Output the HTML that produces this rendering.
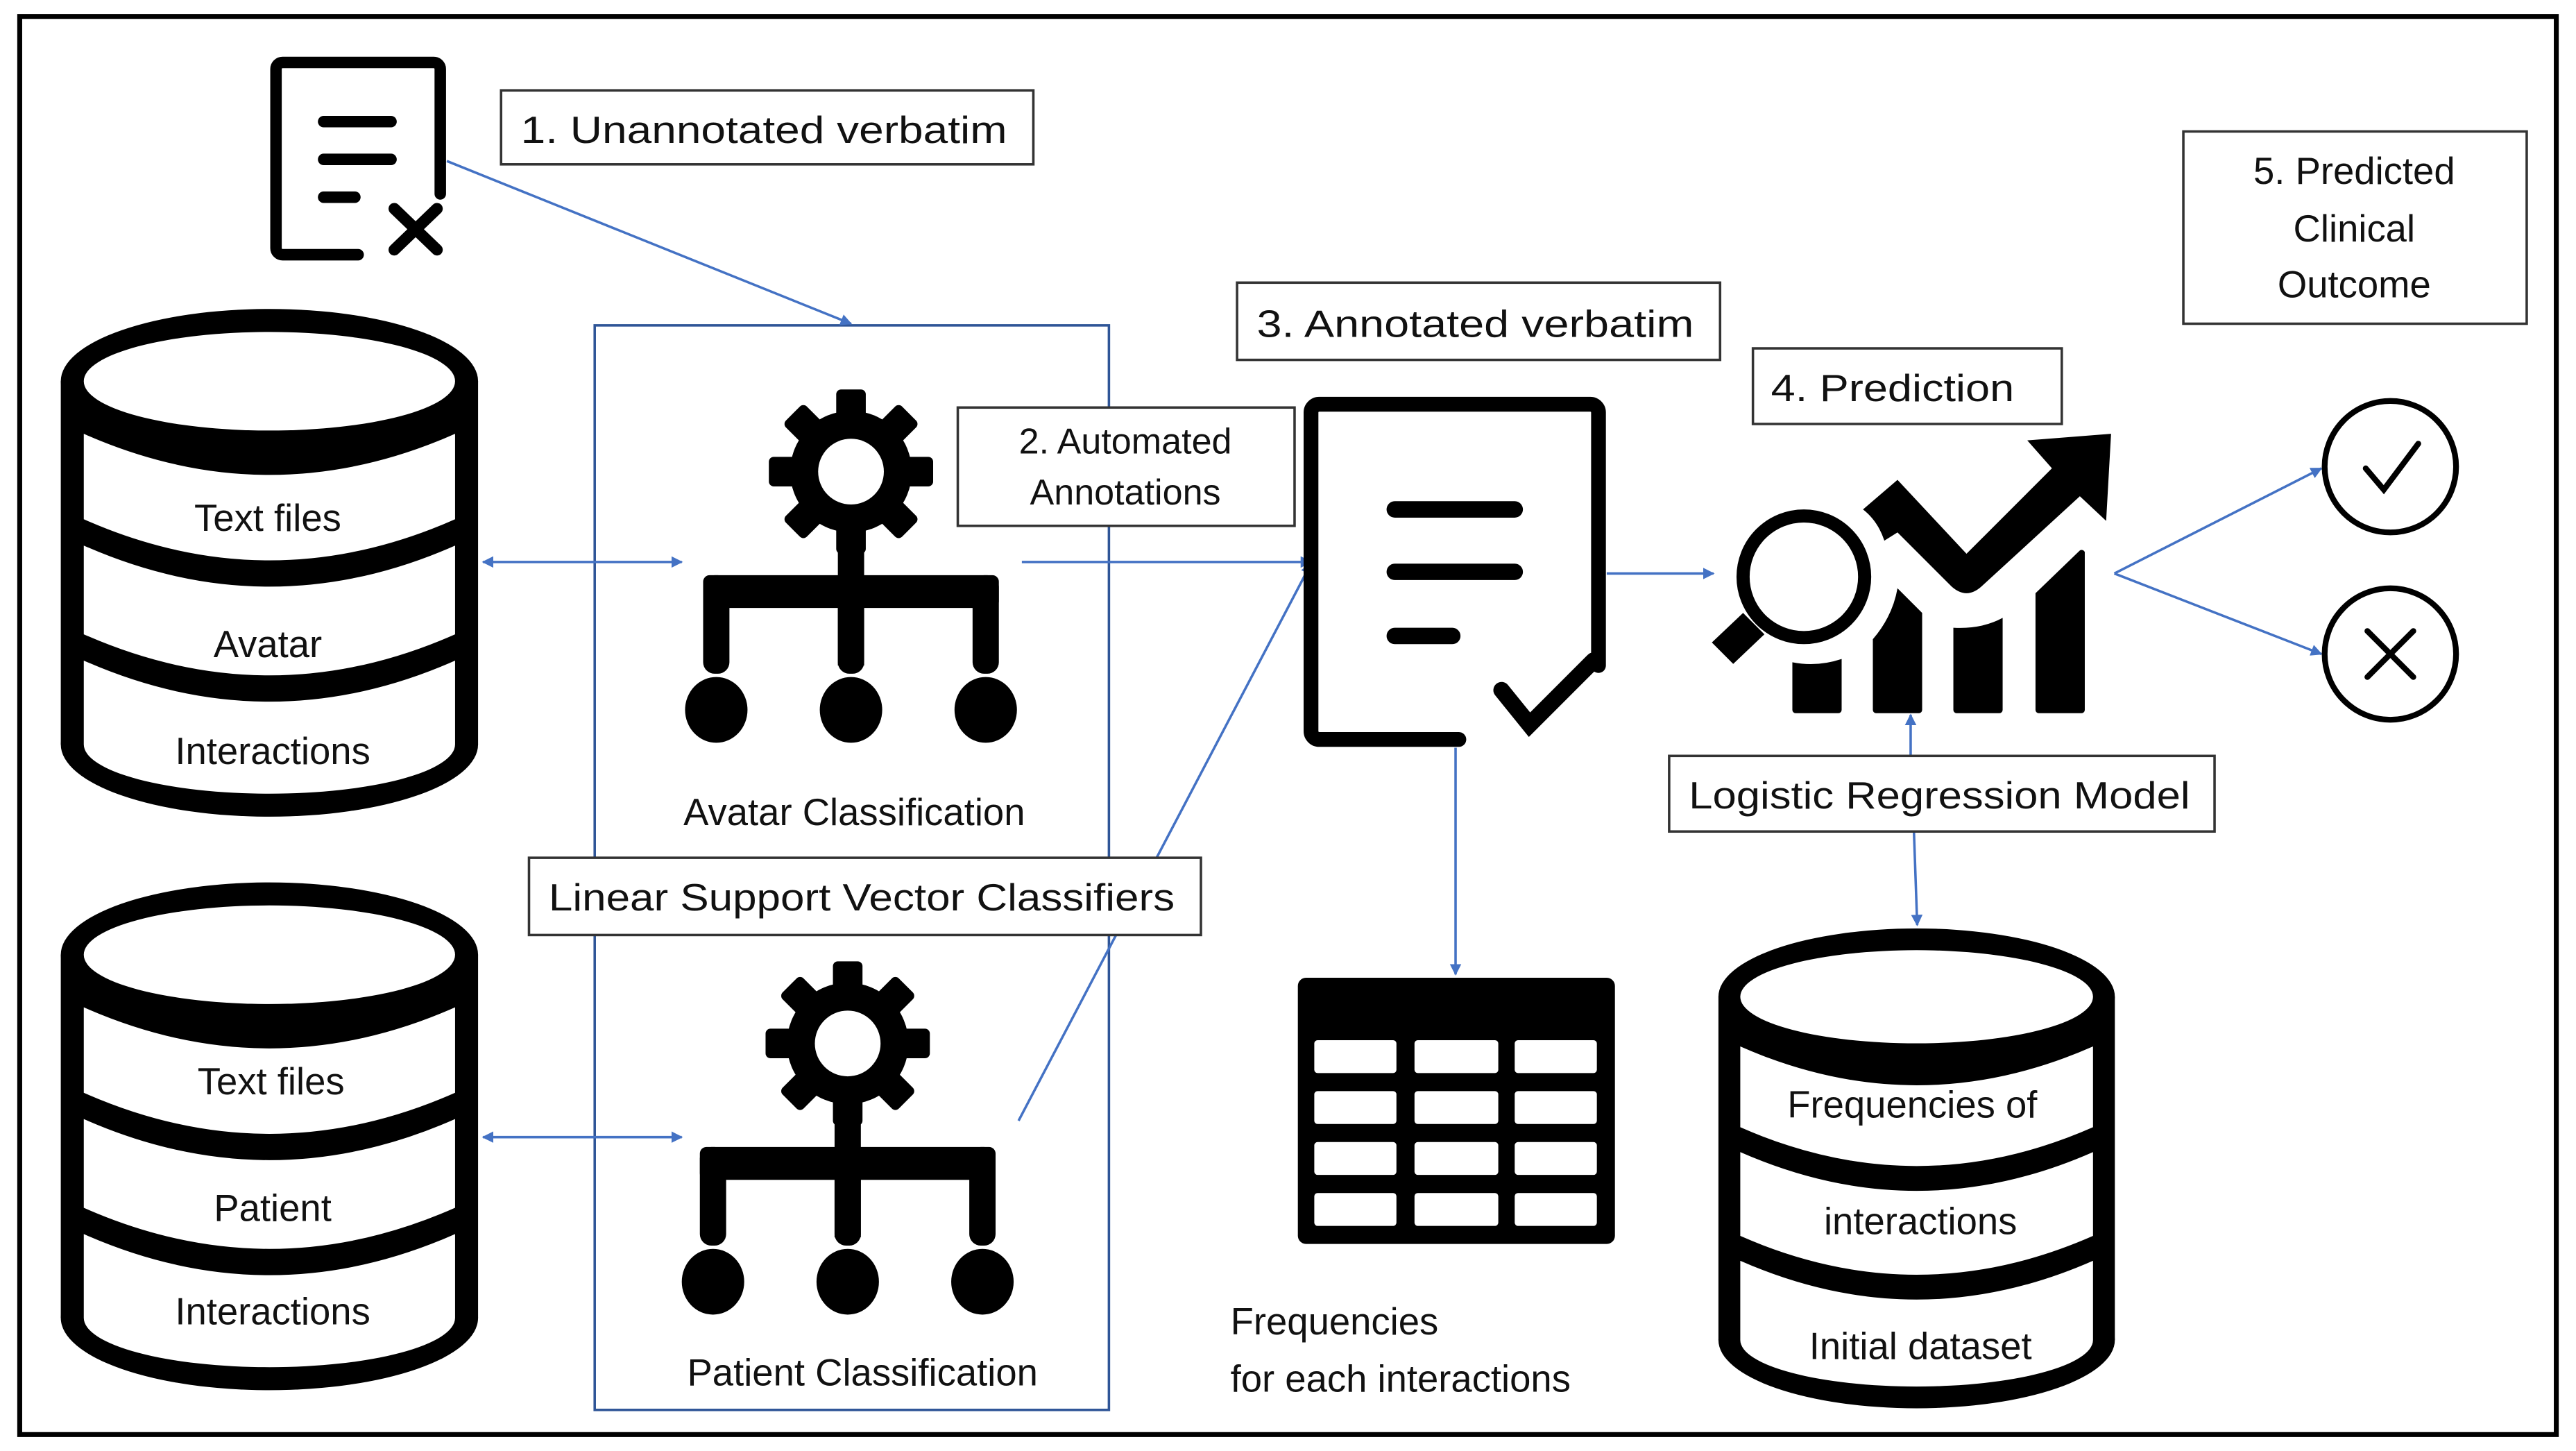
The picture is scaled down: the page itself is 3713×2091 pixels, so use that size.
<!DOCTYPE html>
<html><head><meta charset="utf-8"><style>
html,body{margin:0;padding:0;background:#fff;}
svg{display:block;}
text{font-family:"Liberation Sans",sans-serif;fill:#111;}
</style></head><body>
<svg width="3713" height="2091" viewBox="0 0 1568 883" preserveAspectRatio="none" xmlns="http://www.w3.org/2000/svg">
<defs>
<marker id="ah" viewBox="0 0 10 10" refX="9" refY="5" markerWidth="7" markerHeight="7" orient="auto-start-reverse" markerUnits="userSpaceOnUse"><path d="M0,0 L10,5 L0,10 z" fill="#4472C4"/></marker>
<g id="cyl">
<ellipse cx="127" cy="44" rx="127" ry="44" fill="#000"/>
<rect x="0" y="44" width="254" height="221" fill="#000"/>
<ellipse cx="127" cy="265" rx="127" ry="44" fill="#000"/>
<ellipse cx="127" cy="44" rx="113" ry="30" fill="#fff"/>
<path d="M14,76 Q127,126 240,76 L240,128 Q127,178 14,128 Z" fill="#fff"/>
<path d="M14,144 Q127,194 240,144 L240,198 Q127,248 14,198 Z" fill="#fff"/>
<path d="M14,214 Q127,264 240,214 L240,265 A113,30 0 0 1 14,265 Z" fill="#fff"/>
</g>
<g id="gear">
<g fill="#000">
<circle cx="0" cy="0" r="37"/>
<rect x="-9" y="-50" width="18" height="100" rx="3"/>
<rect x="-9" y="-50" width="18" height="100" rx="3" transform="rotate(45)"/>
<rect x="-9" y="-50" width="18" height="100" rx="3" transform="rotate(90)"/>
<rect x="-9" y="-50" width="18" height="100" rx="3" transform="rotate(135)"/>
</g>
<circle cx="0" cy="0" r="20" fill="#fff"/>
<rect x="-8" y="40" width="16" height="78" fill="#000"/>
<rect x="-90" y="63" width="180" height="20" rx="4" fill="#000"/>
<rect x="-90" y="63" width="16" height="60" rx="7" fill="#000"/>
<rect x="74" y="63" width="16" height="60" rx="7" fill="#000"/>
<rect x="-8" y="63" width="16" height="60" rx="7" fill="#000"/>
<ellipse cx="-82" cy="145" rx="19" ry="20" fill="#000"/>
<ellipse cx="0" cy="145" rx="19" ry="20" fill="#000"/>
<ellipse cx="82" cy="145" rx="19" ry="20" fill="#000"/>
</g>
</defs>
<rect x="12" y="10" width="1544" height="863" fill="#fff" stroke="#000" stroke-width="3"/>

<!-- unannotated doc -->
<path d="M218,155 H172 a4,4 0 0 1 -4,-4 V42 a4,4 0 0 1 4,-4 H264 a4,4 0 0 1 4,4 V118" fill="none" stroke="#000" stroke-width="7" stroke-linecap="round"/>
<g stroke="#000" stroke-width="7" stroke-linecap="round">
<line x1="197" y1="74" x2="238" y2="74"/><line x1="197" y1="97" x2="238" y2="97"/><line x1="197" y1="120" x2="216" y2="120"/>
<line x1="240" y1="127" x2="266" y2="152"/><line x1="266" y1="127" x2="240" y2="152"/>
</g>

<!-- cylinders -->
<use href="#cyl" transform="translate(37,188)"/>
<use href="#cyl" transform="translate(37,537)"/>
<use href="#cyl" transform="translate(1046,565) scale(0.95,0.945)"/>
<g font-size="23" text-anchor="middle">
<text x="163" y="323">Text files</text><text x="163" y="400">Avatar</text><text x="166" y="465">Interactions</text>
<text x="165" y="666">Text files</text><text x="166" y="743">Patient</text><text x="166" y="806">Interactions</text>
<text x="1164" y="680">Frequencies of</text><text x="1169" y="751">interactions</text><text x="1169" y="827">Initial dataset</text>
</g>

<!-- blue box -->
<rect x="362" y="198" width="313" height="660" fill="none" stroke="#2F5597" stroke-width="1.5"/>

<!-- gears -->
<use href="#gear" transform="translate(518,287)"/>
<use href="#gear" transform="translate(516,635)"/>
<g font-size="23" text-anchor="middle">
<text x="520" y="502">Avatar Classification</text>
<text x="525" y="843">Patient Classification</text>
</g>

<!-- connectors -->
<g stroke="#4472C4" stroke-width="1.5" fill="none">
<line x1="272" y1="98" x2="518" y2="197" marker-end="url(#ah)"/>
<line x1="294" y1="342" x2="415" y2="342" marker-start="url(#ah)" marker-end="url(#ah)"/>
<line x1="294" y1="692" x2="415" y2="692" marker-start="url(#ah)" marker-end="url(#ah)"/>
<line x1="622" y1="342" x2="798" y2="342" marker-end="url(#ah)"/>
<line x1="620" y1="682" x2="798" y2="343" marker-end="url(#ah)"/>
<line x1="978" y1="349" x2="1043" y2="349" marker-end="url(#ah)"/>
<line x1="886" y1="455" x2="886" y2="593" marker-end="url(#ah)"/>
<line x1="1163" y1="460" x2="1163" y2="435" marker-end="url(#ah)"/>
<line x1="1165" y1="506" x2="1167" y2="563" marker-end="url(#ah)"/>
<line x1="1287" y1="349" x2="1413" y2="285" marker-end="url(#ah)"/>
<line x1="1287" y1="349" x2="1413" y2="398" marker-end="url(#ah)"/>
</g>

<!-- label boxes -->
<g fill="#fff" stroke="#333" stroke-width="1.5">
<rect x="305" y="55" width="324" height="45"/>
<rect x="583" y="248" width="205" height="72"/>
<rect x="753" y="172" width="294" height="47"/>
<rect x="1067" y="212" width="188" height="46"/>
<rect x="1329" y="80" width="209" height="117"/>
<rect x="322" y="522" width="409" height="47"/>
<rect x="1016" y="460" width="332" height="46"/>
</g>
<g font-size="23">
<text x="317" y="87" textLength="296" lengthAdjust="spacingAndGlyphs">1. Unannotated verbatim</text>
<text x="685" y="276" text-anchor="middle" font-size="22">2. Automated</text>
<text x="685" y="307" text-anchor="middle" font-size="22">Annotations</text>
<text x="765" y="205" textLength="266" lengthAdjust="spacingAndGlyphs">3. Annotated verbatim</text>
<text x="1078" y="244" textLength="148" lengthAdjust="spacingAndGlyphs">4. Prediction</text>
<text x="1433" y="112" text-anchor="middle">5. Predicted</text>
<text x="1433" y="147" text-anchor="middle">Clinical</text>
<text x="1433" y="181" text-anchor="middle">Outcome</text>
<text x="334" y="554" textLength="381" lengthAdjust="spacingAndGlyphs">Linear Support Vector Classifiers</text>
<text x="1028" y="492" textLength="305" lengthAdjust="spacingAndGlyphs">Logistic Regression Model</text>
<text x="749" y="812">Frequencies</text>
<text x="749" y="847">for each interactions</text>
</g>

<!-- annotated doc -->
<path d="M888,450 H803 a5,5 0 0 1 -5,-5 V251 a5,5 0 0 1 5,-5 H968 a5,5 0 0 1 5,5 V405" fill="none" stroke="#000" stroke-width="9" stroke-linecap="round"/>
<g stroke="#000" stroke-width="10" stroke-linecap="round" fill="none">
<line x1="849" y1="310" x2="922" y2="310"/><line x1="849" y1="348" x2="922" y2="348"/><line x1="849" y1="387" x2="884" y2="387"/>
<polyline points="914,420 931,441 970,402"/>
</g>

<!-- table icon -->
<rect x="790" y="595" width="193" height="162" rx="5" fill="#000"/>
<g fill="#fff">
<rect x="800" y="633" width="50" height="20" rx="2"/><rect x="861" y="633" width="51" height="20" rx="2"/><rect x="922" y="633" width="50" height="20" rx="2"/>
<rect x="800" y="664" width="50" height="20" rx="2"/><rect x="861" y="664" width="51" height="20" rx="2"/><rect x="922" y="664" width="50" height="20" rx="2"/>
<rect x="800" y="695" width="50" height="20" rx="2"/><rect x="861" y="695" width="51" height="20" rx="2"/><rect x="922" y="695" width="50" height="20" rx="2"/>
<rect x="800" y="726" width="50" height="20" rx="2"/><rect x="861" y="726" width="51" height="20" rx="2"/><rect x="922" y="726" width="50" height="20" rx="2"/>
</g>

<!-- prediction chart icon -->
<g fill="#000">
<circle cx="1098" cy="351" r="37" fill="none" stroke="#000" stroke-width="8"/>
<path d="M1061,373 L1074,386 L1055,404 L1042,391 Z"/>
<path d="M1091,403 Q1106,406 1121,401 V432 a2,2 0 0 1 -2,2 H1093 a2,2 0 0 1 -2,-2 Z"/>
<path d="M1140,389 Q1152,375 1155,358 L1170,373 V432 a2,2 0 0 1 -2,2 H1142 a2,2 0 0 1 -2,-2 Z"/>
<path d="M1189,382 Q1206,383 1219,376 V432 a2,2 0 0 1 -2,2 H1191 a2,2 0 0 1 -2,-2 Z"/>
<path d="M1239,361 L1266,335 a2,2 0 0 1 3,1 V432 a2,2 0 0 1 -2,2 H1241 a2,2 0 0 1 -2,-2 Z"/>
<path d="M1134,310 L1155,292 L1197,337 L1249,285 L1234,268 L1285,264 L1282,317 L1266,302 L1206,357 Q1197,365 1188,357 L1155,324 L1147,329 Q1143,317 1134,310 Z"/>
</g>

<!-- outcome circles -->
<g fill="none" stroke="#000" stroke-width="3.5" stroke-linecap="round">
<circle cx="1455" cy="284" r="40"/>
<polyline points="1440,285 1451,298 1472,270"/>
<circle cx="1455" cy="398" r="40"/>
<line x1="1441" y1="384" x2="1469" y2="412"/><line x1="1469" y1="384" x2="1441" y2="412"/>
</g>
</svg>
</body></html>
